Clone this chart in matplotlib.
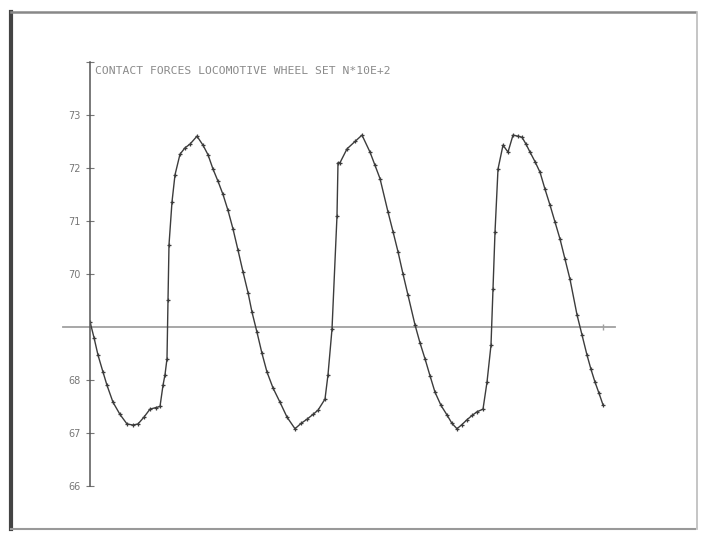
import numpy as np
import matplotlib
matplotlib.use("Agg")
import matplotlib.pyplot as plt
from matplotlib.lines import Line2D

# x in plot units, force in N*10E+2
x = [0, 4, 8, 13, 17, 23, 30, 37, 43, 48, 54, 60, 66, 70, 73, 75, 77, 78, 79,
     82, 85, 90, 95, 100, 107, 113, 118, 123, 128, 133, 138, 143, 148, 153,
     158, 162, 167, 172, 177, 183, 190, 197, 205, 211, 217, 223, 228, 235, 238,
     242, 247, 248, 250, 257, 265, 272, 280, 285, 290, 298, 303, 308, 313, 318,
     325, 330, 335, 340, 345, 351, 357, 362, 367, 372, 377, 382, 387, 393, 397,
     401, 403, 405, 408, 413, 418, 423, 428, 432, 436, 440, 445, 450, 455, 460,
     465, 470, 475, 480, 487, 492, 497, 501, 505, 509, 513]
force = [69.1, 68.8, 68.47, 68.15, 67.9, 67.58, 67.35, 67.17, 67.15, 67.17,
         67.3, 67.45, 67.48, 67.5, 67.9, 68.1, 68.4, 69.5, 70.55, 71.36, 71.87,
         72.26, 72.38, 72.45, 72.6, 72.43, 72.25, 71.98, 71.75, 71.5, 71.2,
         70.85, 70.45, 70.04, 69.65, 69.28, 68.9, 68.5, 68.15, 67.85, 67.58,
         67.3, 67.08, 67.18, 67.26, 67.35, 67.43, 67.64, 68.1, 68.96, 71.1,
         72.1, 72.1, 72.36, 72.5, 72.62, 72.3, 72.05, 71.8, 71.17, 70.8, 70.42,
         70.0, 69.6, 69.04, 68.7, 68.4, 68.08, 67.77, 67.52, 67.34, 67.18,
         67.08, 67.16, 67.25, 67.33, 67.4, 67.45, 67.96, 68.66, 69.72, 70.79,
         71.98, 72.43, 72.3, 72.62, 72.6, 72.58, 72.45, 72.3, 72.12, 71.92,
         71.6, 71.3, 70.98, 70.66, 70.28, 69.9, 69.23, 68.85, 68.47, 68.2,
         67.96, 67.75, 67.53]
ref_level = 69
yticks = [66, 67, 68, 70, 71, 72, 73]
title = "CONTACT FORCES LOCOMOTIVE WHEEL SET N*10E+2"

fig = plt.figure(figsize=(7.02, 5.37), dpi=100)
ax = fig.add_axes([0.1282, 0.095, 0.755, 0.7896])

ax.plot(x, force, color="#3c3c3c", lw=1.0, marker="+", ms=3, mew=0.9)
ax.plot([-27, 525], [ref_level, ref_level], color="#a0a0a0", lw=1.3,
        clip_on=False, zorder=1)
ax.plot([513], [ref_level], marker="|", ms=5, color="#a0a0a0", clip_on=False)

ax.set_xlim(0, 530)
ax.set_ylim(66, 74)
for s in ["top", "right", "bottom"]:
    ax.spines[s].set_visible(False)
ax.spines["left"].set_color("#555555")
ax.spines["left"].set_linewidth(1.1)
ax.set_xticks([])
ax.set_yticks(yticks + [74])
ax.set_yticklabels([str(v) for v in yticks] + [""])
ax.tick_params(axis="y", direction="inout", length=6, width=0.8,
               colors="#777777", labelsize=7, pad=4)

fig.text(0.136, 0.868, title, fontsize=8.2, color="#8a8a8a",
         family="DejaVu Sans Mono", va="center")

# photo frame of the printout
fig.add_artist(Line2D([0.016, 0.016], [0.015, 0.978], color="#444444", lw=3.0))
fig.add_artist(Line2D([0.016, 0.99], [0.978, 0.978], color="#888888", lw=1.8))
fig.add_artist(Line2D([0.016, 0.99], [0.015, 0.015], color="#999999", lw=1.5))
fig.add_artist(Line2D([0.993, 0.993], [0.015, 0.978], color="#bbbbbb", lw=1.2))

fig.savefig("out.png", dpi=100)
